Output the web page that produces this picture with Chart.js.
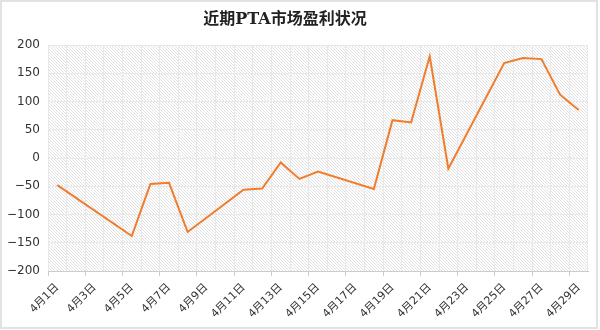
<!DOCTYPE html>
<html>
<head>
<meta charset="utf-8">
<script src="https://cdn.jsdelivr.net/npm/chart.js@4/dist/chart.umd.min.js"></script>
<style>
  html, body { margin: 0; padding: 0; background: #fff; }
  #wrap { width: 600px; height: 330px; position: relative; }
</style>
</head>
<body>
<div id="wrap"><canvas id="chart" width="600" height="330"></canvas></div>
<script>
// 4月1日 .. 4月29日, one category per day
const days = [];
for (let d = 1; d <= 29; d++) days.push('4月' + d + '日');

// profit per day, null where there is no quote
const profit = [
  -48, null, null, null, -138, -46, -44, -131, null, null,
  -56, -54, -8, -37, -24, null, null, -55, 67, 63,
  180, -19, null, null, 168, 177, 175, 112, 85
];

const yTicks = [-200, -150, -100, -50, 0, 50, 100, 150, 200];

const titleText = '近期PTA市场盈利状况';

// diagonal hatching behind the plot area
function makeHatch(ctx) {
  const c = document.createElement('canvas');
  c.width = 3; c.height = 3;
  const g = c.getContext('2d');
  g.fillStyle = '#ffffff';
  g.fillRect(0, 0, 3, 3);
  g.fillStyle = '#e2e2e2';
  for (let i = 0; i < 3; i++) g.fillRect(i, i, 1, 1);
  return ctx.createPattern(c, 'repeat');
}

const decor = {
  id: 'decor',
  beforeDraw(chart) {
    const {ctx, chartArea: a} = chart;
    ctx.save();
    ctx.fillStyle = makeHatch(ctx);
    ctx.fillRect(a.left, a.top, a.right - a.left, a.bottom - a.top);
    ctx.restore();
  },
  afterDraw(chart) {
    const ctx = chart.ctx;
    ctx.save();
    ctx.fillStyle = '#222';
    ctx.font = 'bold 16px "DejaVu Serif", "Noto Sans CJK SC", serif';
    ctx.textAlign = 'center';
    ctx.textBaseline = 'middle';
    ctx.fillText(titleText, 285, 20);
    ctx.strokeStyle = '#e2e2e2';
    ctx.lineWidth = 2;
    ctx.strokeRect(1, 1, 596, 327);
    ctx.restore();
  }
};

new Chart(document.getElementById('chart'), {
  type: 'line',
  data: {
    labels: days,
    datasets: [{
      data: profit,
      borderColor: '#f07c2e',
      borderWidth: 2,
      pointRadius: 0,
      tension: 0,
      spanGaps: true,
      fill: false
    }]
  },
  options: {
    responsive: false,
    animation: false,
    layout: {padding: {left: 0, right: 12, top: 45, bottom: 0}},
    plugins: {legend: {display: false}, title: {display: false}, tooltip: {enabled: false}},
    scales: {
      x: {
        offset: true,
        grid: {
          offset: true,
          color: '#e8e8e8',
          drawTicks: true,
          tickLength: 5,
          tickColor: (c) => (c.index % 2 === 0 ? '#cccccc' : 'rgba(0,0,0,0)')
        },
        border: {display: true, color: '#cccccc'},
        ticks: {
          autoSkip: false,
          minRotation: 45,
          maxRotation: 45,
          padding: 5,
          color: '#333',
          font: {size: 11, family: '"DejaVu Sans", "Noto Sans CJK SC", sans-serif'},
          callback: (v, i) => (i % 2 === 0 ? days[i] : '')
        },
        afterFit: (s) => { s.height = 59; }
      },
      y: {
        min: yTicks[0],
        max: yTicks[yTicks.length - 1],
        afterBuildTicks: (s) => { s.ticks = yTicks.map(v => ({value: v})); },
        grid: {color: '#e8e8e8', drawTicks: false},
        border: {display: false},
        ticks: {
          padding: 8,
          color: '#333',
          font: {size: 12, family: '"DejaVu Sans", sans-serif'},
          callback: (v) => String(v).replace('-', '\u2212')
        },
        afterFit: (s) => { s.width = 48; }
      }
    }
  },
  plugins: [decor]
});
</script>
</body>
</html>
